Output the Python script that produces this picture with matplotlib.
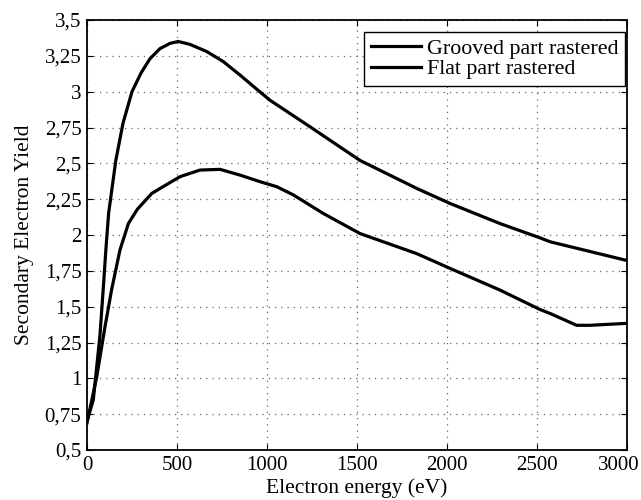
import matplotlib
matplotlib.use("Agg")
import matplotlib.pyplot as plt
import matplotlib.transforms as mtransforms
import numpy as np

# curves
grooved_e = [0, 35, 72, 90, 105, 120, 160, 200, 250, 300, 350, 405, 461, 507,
             572, 665, 757, 850, 950, 1017, 1239, 1517, 1832, 2017, 2294, 2517,
             2572, 2990]
grooved_y = [0.70, 0.85, 1.30, 1.62, 1.90, 2.15, 2.52, 2.78, 3.00, 3.13, 3.23,
             3.30, 3.337, 3.35, 3.33, 3.28, 3.21, 3.116, 3.01, 2.94, 2.755, 2.52,
             2.325, 2.22, 2.08, 1.98, 1.953, 1.825]

flat_e = [0, 54, 100, 137, 183, 230, 280, 331, 360, 406, 517, 628, 739, 850,
          961, 1054, 1146, 1313, 1517, 1832, 2017, 2294, 2517, 2572, 2720, 2794,
          2990]
flat_y = [0.69, 1.01, 1.36, 1.62, 1.895, 2.08, 2.18, 2.25, 2.29, 2.325, 2.407,
          2.453, 2.458, 2.418, 2.372, 2.337, 2.28, 2.15, 2.01, 1.87, 1.767, 1.616,
          1.48, 1.453, 1.37, 1.37, 1.383]

xticks = [0, 500, 1000, 1500, 2000, 2500, 3000]
yticks = [0.5, 0.75, 1, 1.25, 1.5, 1.75, 2, 2.25, 2.5, 2.75, 3, 3.25, 3.5]
ytick_labels = ['0,5', '0,75', '1', '1,25', '1,5', '1,75', '2', '2,25', '2,5',
                '2,75', '3', '3,25', '3,5']

plt.rcParams['font.family'] = ['Liberation Serif', 'DejaVu Serif']

fig = plt.figure(figsize=(6.41, 5.0), dpi=100)
ax = fig.add_axes([87/641, 50/500, 540/641, 430/500])

ax.plot(grooved_e, grooved_y, color='black', lw=2.3, label='Grooved part rastered')
ax.plot(flat_e, flat_y, color='black', lw=2.3, label='Flat part rastered')

ax.set_xlim(0, 3000)
ax.set_ylim(0.5, 3.5)
ax.set_xticks(xticks)
ax.set_yticks(yticks)
ax.set_yticklabels(ytick_labels)
ax.tick_params(direction='in', top=True, right=True, labelsize=15, length=4, pad=4)
ax.grid(True, linestyle=(0, (1, 4)), color='#666666', lw=0.9)
for s in ax.spines.values():
    s.set_linewidth(1.3)

# last x label sits a little left in the reference so it stays inside the image
lab = ax.get_xticklabels()[-1]
lab.set_transform(lab.get_transform() + mtransforms.ScaledTranslation(-8/100, 0, fig.dpi_scale_trans))

ax.set_xlabel('Electron energy (eV)', fontsize=15.5, labelpad=3)
ax.set_ylabel('Secondary Electron Yield', fontsize=15.5, labelpad=8)

leg = ax.legend(loc='upper right', fontsize=15.8, frameon=True, fancybox=False,
                edgecolor='black', framealpha=1, handlelength=2.3,
                handletextpad=0.25, borderpad=0.3, labelspacing=0.0,
                borderaxespad=0, bbox_to_anchor=(1 - 2/540, 1 - 12/430))
leg.get_frame().set_linewidth(1.0)

fig.savefig('out.png', dpi=100)
